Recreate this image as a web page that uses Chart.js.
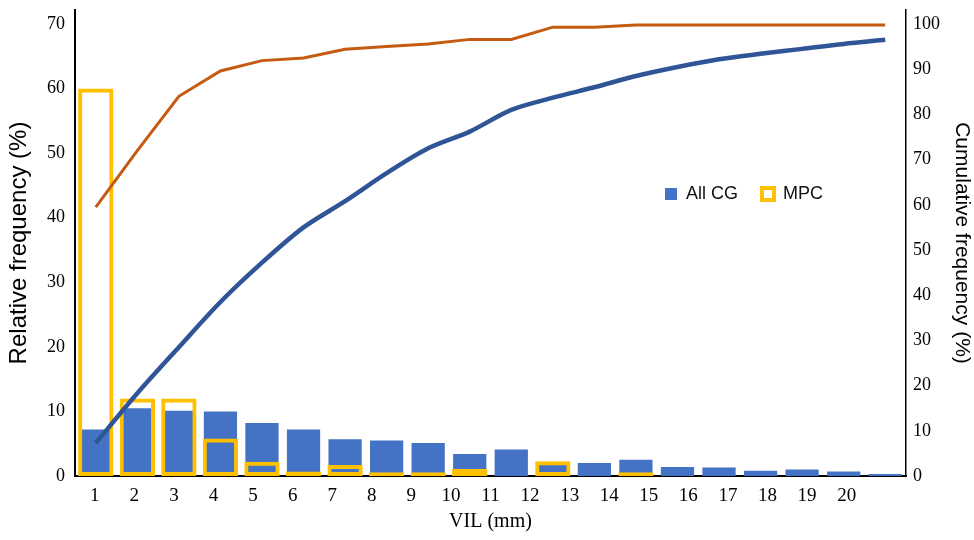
<!DOCTYPE html>
<html>
<head>
<meta charset="utf-8">
<script src="https://cdn.jsdelivr.net/npm/chart.js@4.4.1/dist/chart.umd.min.js"></script>
<style>
    html, body { margin: 0; padding: 0; background: #fff; }
    #wrap { width: 974px; height: 540px; }
</style>
</head>
<body>
<div id="wrap"><canvas id="vil-chart" width="974" height="540"></canvas></div>
<script>
// --- Data ---
const VIL_BINS = ['1', '2', '3', '4', '5', '6', '7', '8', '9', '10',
                  '11', '12', '13', '14', '15', '16', '17', '18', '19', '20'];
// tick row under the axis has one empty slot at the end
const TICK_LABELS = [...VIL_BINS, ''];

// relative frequency (%), left axis
const ALL_CG = [7.2, 10.5, 10.1, 10.0, 8.2, 7.2, 5.7, 5.5, 5.1, 3.4,
                4.1, 1.8, 2.0, 2.5, 1.4, 1.3, 0.8, 1.0, 0.7, 0.3];
const MPC = [60, 12, 12, 5.8, 2.2, 0.7, 1.7, 0.6, 0.6, 1.1,
             0, 2.3, 0, 0.6, 0, 0, 0, 0, 0, 0];

// cumulative frequency (%), right axis
const ALL_CG_CUM = [7.3, 18.3, 28.5, 38.5, 47.2, 55.0, 60.8, 67.0, 72.5, 76.2,
                    81.0, 83.7, 86.0, 88.5, 90.5, 92.2, 93.4, 94.5, 95.6, 96.5];
const MPC_CUM = [59.5, 72.0, 84.0, 89.6, 91.9, 92.5, 94.4, 95.0, 95.6, 96.6,
                 96.6, 99.3, 99.3, 99.8, 99.8, 99.8, 99.8, 99.8, 99.8, 99.8];

const LEFT_TICKS = [0, 10, 20, 30, 40, 50, 60, 70];
const RIGHT_TICKS = [0, 10, 20, 30, 40, 50, 60, 70, 80, 90, 100];

const COLORS = {
    bar: '#4472C4',
    mpc: '#FFC000',
    cumAll: '#2F5597',
    cumMpc: '#C55A11'
};

const SERIF = "'Liberation Serif', 'Times New Roman', serif";
const SANS = "'Liberation Sans', Arial, sans-serif";

Chart.defaults.color = '#000';

// axes run a little past 70 / 100, labels stop at the round values
const useTicks = values => scale => {
    scale.ticks = values.map(v => ({ value: v }));
};

// no extra room for half labels at the ends of the axes
const noEndPadding = extra => scale => {
    scale.paddingTop = 0;
    scale.paddingBottom = 0;
    scale.paddingLeft = 0;
    scale.paddingRight = 0;
    extra(scale);
};

// legend sits inside the plot, right of the middle, and takes no layout room
const legendMover = {
    id: 'legendMover',
    beforeLayout(chart) {
        const lg = chart.legend;
        if (!lg || lg._flatFit) return;
        const fit = lg.fit.bind(lg);
        lg.fit = function () {
            fit();
            this._realHeight = this.height;
            this.height = 0;
        };
        lg._flatFit = true;
    },
    afterUpdate(chart) {
        const lg = chart.legend;
        if (!lg) return;
        const cx = 744, cy = 187;
        const w = 220, h = lg._realHeight || 0;
        lg.left = cx - w / 2;
        lg.right = cx + w / 2;
        lg.width = w;
        lg.top = cy - h / 2;
        lg.bottom = cy + h / 2;
        lg.height = h;
        lg.adjustHitBoxes();
    }
};

function initChart() {
    const ctx = document.getElementById('vil-chart').getContext('2d');

    return new Chart(ctx, {
        type: 'bar',
        data: {
            labels: VIL_BINS,
            datasets: [
                {
                    label: 'All CG',
                    data: ALL_CG,
                    backgroundColor: COLORS.bar,
                    borderWidth: 0,
                    barPercentage: 0.8,
                    categoryPercentage: 1,
                    grouped: false,
                    yAxisID: 'y',
                    order: 2
                },
                {
                    label: 'MPC',
                    data: MPC,
                    backgroundColor: 'rgba(255,255,255,0)',
                    borderColor: COLORS.mpc,
                    borderWidth: 4,
                    borderSkipped: false,
                    barPercentage: 0.85,
                    categoryPercentage: 1,
                    grouped: false,
                    yAxisID: 'y',
                    order: 1
                },
                {
                    type: 'line',
                    label: 'All CG cumulative',
                    data: ALL_CG_CUM,
                    borderColor: COLORS.cumAll,
                    borderWidth: 4.5,
                    pointRadius: 0,
                    tension: 0.3,
                    yAxisID: 'y2',
                    order: 0
                },
                {
                    type: 'line',
                    label: 'MPC cumulative',
                    data: MPC_CUM,
                    borderColor: COLORS.cumMpc,
                    borderWidth: 3,
                    pointRadius: 0,
                    tension: 0,
                    yAxisID: 'y2',
                    order: 0
                }
            ]
        },
        options: {
            responsive: false,
            animation: false,
            devicePixelRatio: 1,
            layout: { padding: { top: 10, left: 0, right: 0, bottom: 0 } },
            plugins: {
                tooltip: { enabled: false },
                legend: {
                    position: 'top',
                    labels: {
                        filter: item => item.datasetIndex < 2,
                        sort: (a, b) => a.datasetIndex - b.datasetIndex,
                        boxWidth: 12,
                        boxHeight: 12,
                        padding: 24,
                        color: '#111',
                        font: { family: SANS, size: 18 }
                    }
                }
            },
            scales: {
                x: {
                    display: false,
                    offset: true
                },
                xTicks: {
                    type: 'category',
                    position: 'bottom',
                    labels: TICK_LABELS,
                    offset: true,
                    grid: { display: false, drawTicks: false },
                    border: { display: true, color: '#000', width: 2 },
                    ticks: {
                        padding: 9,
                        maxRotation: 0,
                        autoSkip: false,
                        font: { family: SERIF, size: 19 }
                    },
                    title: {
                        display: true,
                        text: 'VIL (mm)',
                        font: { family: SERIF, size: 20 },
                        padding: { top: 0, bottom: 6 }
                    },
                    afterFit: noEndPadding(s => { s.height = 64; })
                },
                y: {
                    position: 'left',
                    min: 0,
                    max: 72.17,
                    grid: { display: false, drawTicks: false },
                    border: { display: true, color: '#000', width: 2 },
                    ticks: {
                        padding: 10,
                        font: { family: SERIF, size: 18 }
                    },
                    afterBuildTicks: useTicks(LEFT_TICKS),
                    title: {
                        display: true,
                        text: 'Relative frequency (%)',
                        font: { family: SANS, size: 24 },
                        padding: { top: 5, bottom: 0 }
                    },
                    afterFit: noEndPadding(s => { s.width = 75; })
                },
                y2: {
                    position: 'right',
                    min: 0,
                    max: 103.1,
                    grid: { display: false, drawTicks: false },
                    border: { display: true, color: '#000', width: 1.5 },
                    ticks: {
                        padding: 7,
                        font: { family: SERIF, size: 18 }
                    },
                    afterBuildTicks: useTicks(RIGHT_TICKS),
                    title: {
                        display: true,
                        text: 'Cumulative frequency (%)',
                        font: { family: SANS, size: 21 },
                        padding: { top: 0, bottom: 0 }
                    },
                    afterFit: noEndPadding(s => { s.width = 68; })
                }
            }
        },
        plugins: [legendMover]
    });
}

window.onload = () => {
    initChart();
};
</script>
</body>
</html>
